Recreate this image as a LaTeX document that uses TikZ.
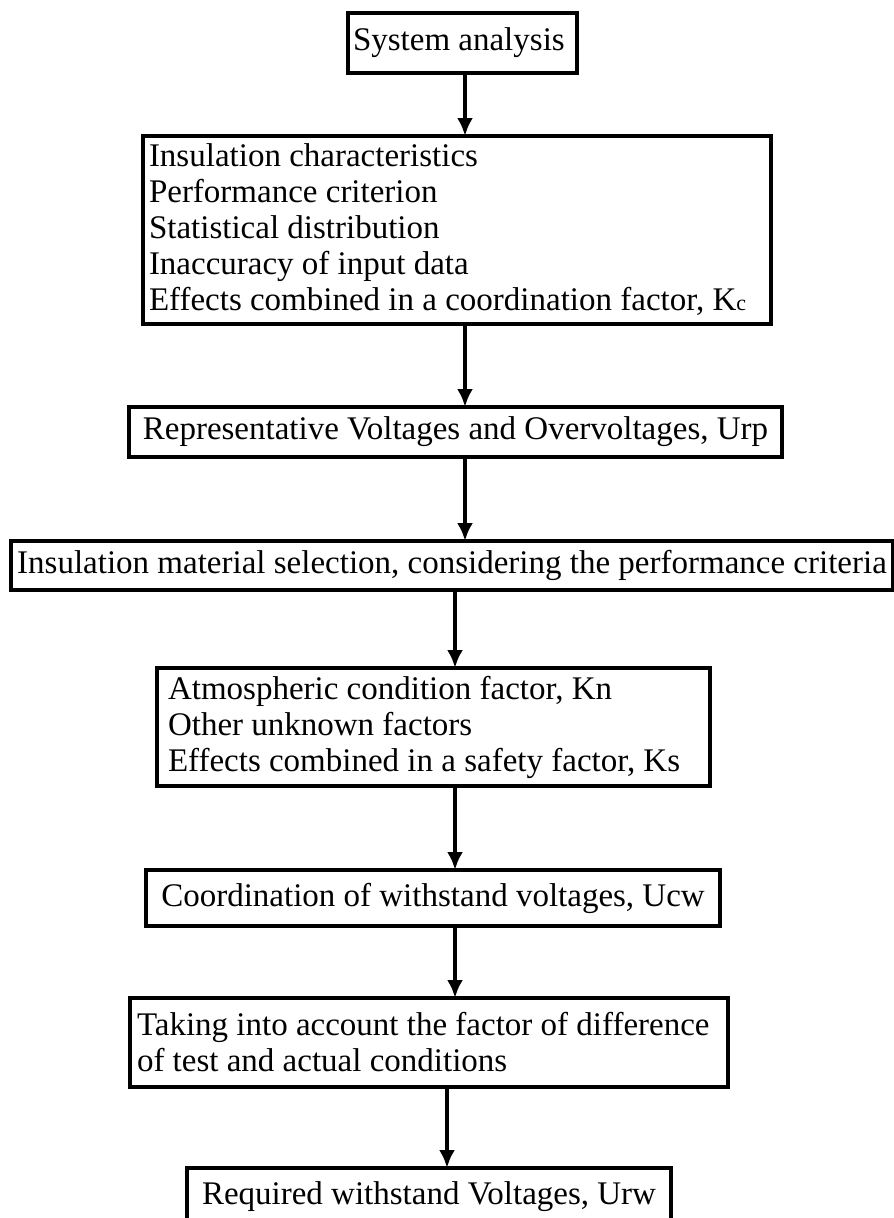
\documentclass[tikz,border=0pt]{standalone}
\usepackage{fontspec}
\setmainfont{Liberation Serif}
\usetikzlibrary{arrows.meta}

\begin{document}
\begin{tikzpicture}[x=1pt, y=-1pt,
  box/.style={draw, line width=4pt, outer sep=0pt, inner ysep=0pt, align=flush left,
    anchor=north west, font=\fontsize{33}{36}\selectfont},
  arr/.style={line width=4pt, -{Latex[length=18pt,width=16pt]}}]
  % Page size and background
  \clip (0,0) rectangle (894,1218);
  \fill[white] (0,0) rectangle (894,1218);

  % Columns the arrows run down
  \coordinate (a1) at (465,0);
  \coordinate (a2) at (455,0);
  \coordinate (a3) at (447,0);

  % Boxes, placed by their top left corners
  \node[box, inner xsep=5pt, text width=219pt, minimum height=60pt] (sys) at (348,13) {System analysis};
  \node[box, inner xsep=6pt, text width=616pt, minimum height=188pt] (chars) at (143,136)
    {Insulation characteristics\\ Performance criterion\\ Statistical distribution\\
     Inaccuracy of input data\\ Effects combined in a coordination factor, K{\fontsize{22}{22}\selectfont c}};
  \node[box, minimum width=653pt, minimum height=50pt] (rep) at (129,407)
    {Representative Voltages and Overvoltages, Urp};
  \node[box, minimum width=882pt, minimum height=49pt] (ins) at (11,541)
    {Insulation material selection, considering the performance criteria};
  \node[box, inner xsep=11pt, text width=531pt, minimum height=118pt] (atm) at (157,668)
    {Atmospheric condition factor, Kn\\ Other unknown factors\\ Effects combined in a safety factor, Ks};
  \node[box, minimum width=574pt, minimum height=56pt] (ucw) at (146,870)
    {Coordination of withstand voltages, Ucw};
  \node[box, inner xsep=7pt, text width=584pt, minimum height=89pt] (take) at (130,998)
    {Taking into account the factor of difference\\ of test and actual conditions};
  \node[box, minimum width=484pt, minimum height=58pt] (urw) at (187,1168)
    {Required withstand Voltages, Urw};

  % Arrows between the boxes
  \foreach \from/\to/\col in {sys/chars/a1, chars/rep/a1, rep/ins/a1, ins/atm/a2,
      atm/ucw/a2, ucw/take/a2, take/urw/a3}
    \draw[arr] (\from.south -| \col) -- (\to.north -| \col);
\end{tikzpicture}
\end{document}
